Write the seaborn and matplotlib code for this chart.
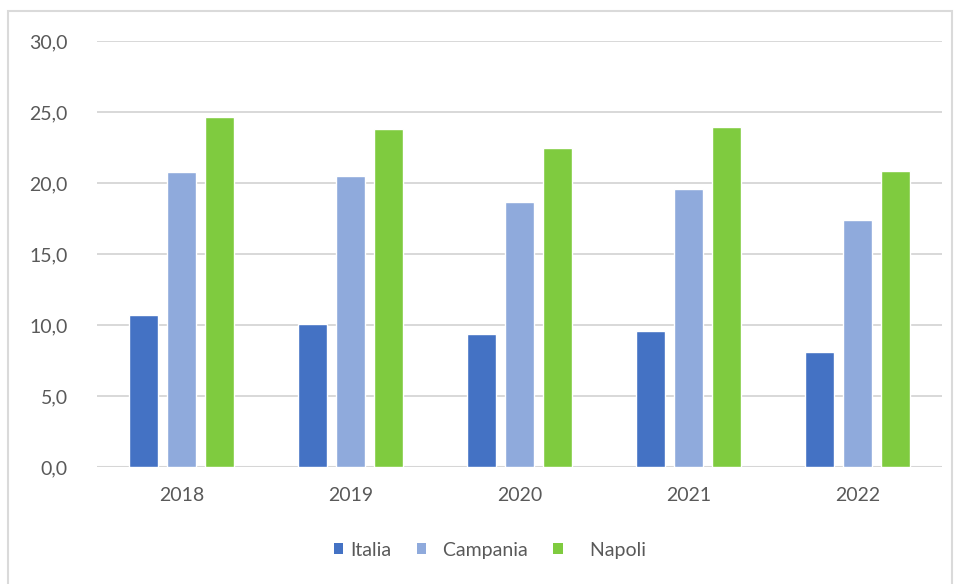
import matplotlib
matplotlib.use("Agg")
import matplotlib.pyplot as plt
import seaborn as sns
import pandas as pd
from matplotlib.patches import Rectangle, Patch

anni = ["2018", "2019", "2020", "2021", "2022"]
italia = [10.7, 10.1, 9.4, 9.6, 8.1]
campania = [20.8, 20.5, 18.7, 19.6, 17.4]
napoli = [24.7, 23.8, 22.5, 24.0, 20.9]
serie = ["Italia", "Campania", "Napoli"]
colori = ["#4472C4", "#8FAADC", "#7FCB3F"]
yticks = [0, 5, 10, 15, 20, 25, 30]

df = pd.DataFrame({
    "Anno": anni * 3,
    "Area": [s for s in serie for _ in anni],
    "Valore": italia + campania + napoli,
})

sns.set_theme(style="white")
plt.rcParams["font.family"] = ["Lato", "DejaVu Sans"]

fig = plt.figure(figsize=(9.6, 5.84), dpi=100)
ax = fig.add_axes([0.101, 0.2, 0.88, 0.729])

sns.barplot(data=df, x="Anno", y="Valore", hue="Area", hue_order=serie,
            palette=colori, width=0.674, gap=0.24, saturation=1,
            legend=False, ax=ax)

ax.set_ylim(0, 30)
ax.set_xlim(-0.5, 4.5)
ax.set_yticks(yticks)
ax.set_yticklabels([f"{v:.1f}".replace(".", ",") for v in yticks])
ax.yaxis.grid(True, color="#D6D6D6", linewidth=1.3)
ax.set_axisbelow(True)
for s in ax.spines.values():
    s.set_visible(False)
ax.axhline(0, color="#D6D6D6", linewidth=1.5, zorder=0)
ax.set_xlabel("")
ax.set_ylabel("")
ax.tick_params(axis="both", length=0, labelsize=14, labelcolor="#595959")
ax.tick_params(axis="x", pad=14)
ax.tick_params(axis="y", pad=21)

handles = [Patch(facecolor=c, edgecolor="none") for c in colori]
fig.legend(handles, ["Italia", "  Campania", "    Napoli"], loc="center",
           bbox_to_anchor=(0.51, 0.058), ncol=3, frameon=False,
           fontsize=14, labelcolor="#595959", handlelength=0.5,
           handleheight=0.5, handletextpad=0.35, columnspacing=1.3)

fig.add_artist(Rectangle((8 / 960, -0.01), 944 / 960, 1 - 11 / 584 + 0.01,
                         transform=fig.transFigure, fill=False,
                         edgecolor="#DADADA", linewidth=1.5))

fig.savefig("out.png", dpi=100, facecolor="white")
